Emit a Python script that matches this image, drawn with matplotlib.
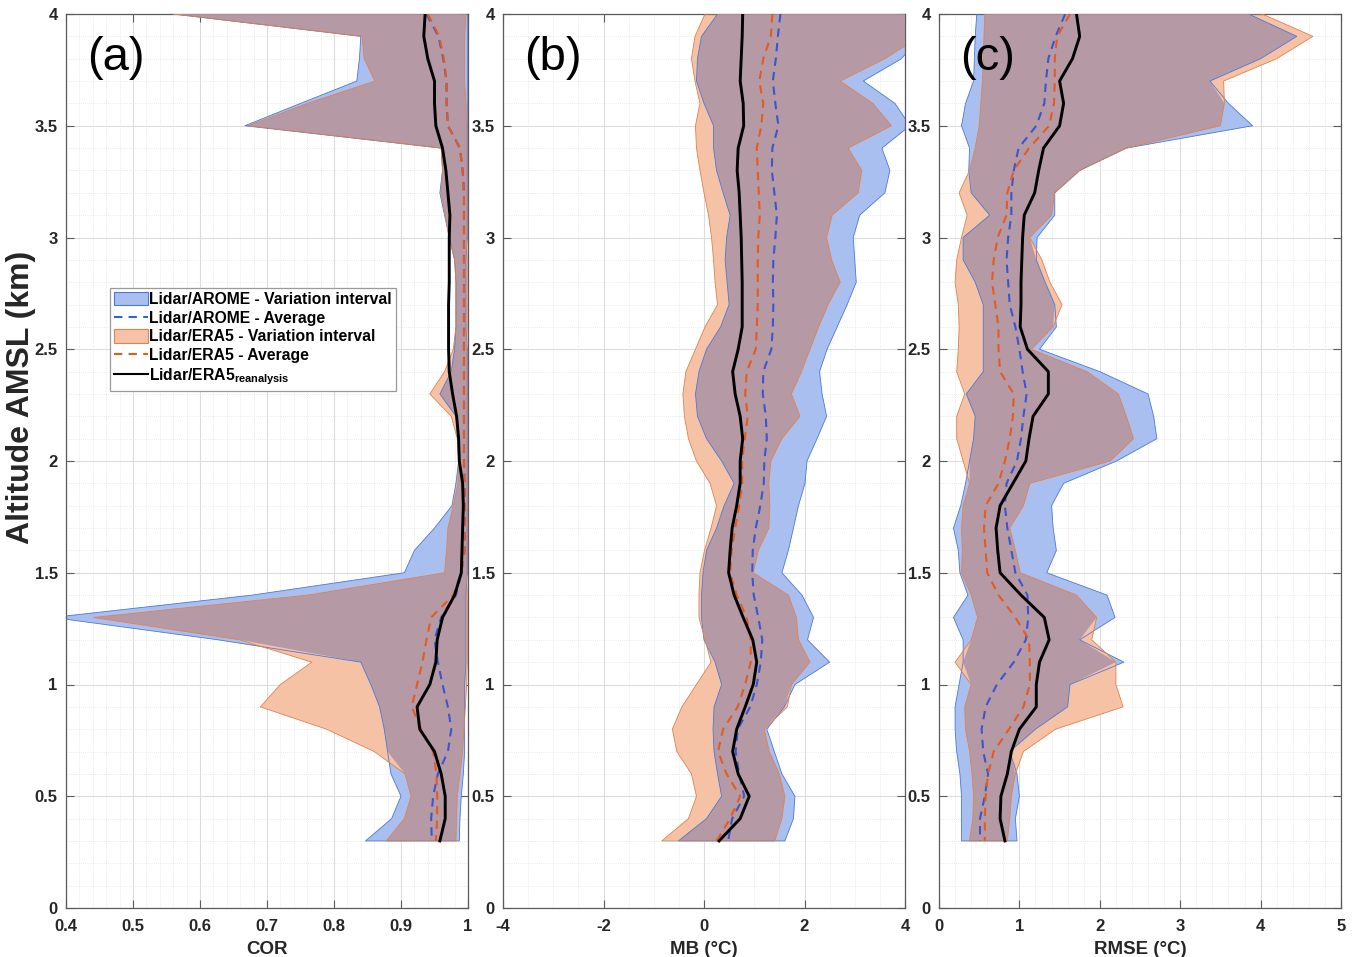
import matplotlib
matplotlib.use('Agg')
import matplotlib.pyplot as plt
import numpy as np
from matplotlib.patches import Patch
from matplotlib.lines import Line2D
from matplotlib.ticker import MultipleLocator

plt.rcParams['font.family'] = ['Liberation Sans', 'DejaVu Sans']
plt.rcParams['mathtext.fontset'] = 'custom'
plt.rcParams['mathtext.bf'] = 'Liberation Sans:bold'
plt.rcParams['mathtext.rm'] = 'Liberation Sans'
plt.rcParams['axes.unicode_minus'] = False

# altitude levels (km), top to bottom
alt = [4.0, 3.9, 3.8, 3.7, 3.6, 3.5, 3.4, 3.3, 3.2, 3.1,
       3.0, 2.9, 2.8, 2.7, 2.6, 2.5, 2.4, 2.3, 2.2, 2.1,
       2.0, 1.9, 1.8, 1.7, 1.6, 1.5, 1.4, 1.3, 1.2, 1.1,
       1.0, 0.9, 0.8, 0.7, 0.6, 0.5, 0.4, 0.3]

# ---- (a) COR ----
a_blue_lo = [0.56, 0.84, 0.838, 0.834, 0.75, 0.667, 0.96, 0.962, 0.958, 0.965,
             0.972, 0.980, 0.982, 0.982, 0.982, 0.980, 0.975, 0.958, 0.982, 0.985,
             0.986, 0.982, 0.976, 0.950, 0.920, 0.905, 0.678, 0.38, 0.627, 0.840,
             0.855, 0.868, 0.875, 0.880, 0.885, 0.900, 0.886, 0.847]
a_blue_hi = [0.999, 0.999, 0.999, 0.999, 0.999, 0.999, 0.999, 0.999, 0.999, 0.999,
             0.999, 0.997, 0.997, 0.997, 0.997, 0.999, 0.999, 0.999, 0.999, 0.999,
             0.999, 0.999, 0.999, 0.999, 0.999, 0.999, 0.997, 0.997, 0.997, 0.997,
             0.995, 0.995, 0.995, 0.995, 0.993, 0.990, 0.988, 0.987]
a_orange_lo = [0.56, 0.842, 0.845, 0.861, 0.76, 0.672, 0.96, 0.962, 0.960, 0.966,
               0.972, 0.980, 0.982, 0.982, 0.982, 0.978, 0.965, 0.943, 0.975, 0.984,
               0.986, 0.985, 0.978, 0.970, 0.968, 0.965, 0.761, 0.441, 0.659, 0.767,
               0.720, 0.690, 0.789, 0.860, 0.906, 0.915, 0.905, 0.878]
a_orange_hi = [0.997, 0.995, 0.995, 0.995, 0.997, 0.998, 0.998, 0.998, 0.998, 0.998,
               0.998, 0.999, 0.999, 0.999, 0.999, 0.998, 0.998, 0.998, 0.998, 0.998,
               0.998, 0.998, 0.998, 0.998, 0.998, 0.998, 0.999, 0.999, 0.999, 0.999,
               0.998, 0.996, 0.994, 0.992, 0.988, 0.984, 0.983, 0.982]
a_blue_avg = [0.938, 0.956, 0.963, 0.968, 0.968, 0.970, 0.988, 0.992, 0.994, 0.994,
              0.994, 0.994, 0.994, 0.994, 0.994, 0.994, 0.994, 0.994, 0.994, 0.994,
              0.994, 0.995, 0.995, 0.995, 0.995, 0.990, 0.982, 0.960, 0.950, 0.955,
              0.962, 0.970, 0.975, 0.970, 0.955, 0.948, 0.945, 0.946]
a_orange_avg = [0.940, 0.957, 0.964, 0.968, 0.968, 0.970, 0.988, 0.992, 0.994, 0.994,
                0.994, 0.994, 0.994, 0.994, 0.994, 0.994, 0.994, 0.994, 0.994, 0.994,
                0.994, 0.995, 0.995, 0.995, 0.995, 0.990, 0.978, 0.945, 0.938, 0.932,
                0.924, 0.916, 0.930, 0.948, 0.953, 0.954, 0.954, 0.952]
a_black = [0.936, 0.934, 0.940, 0.950, 0.950, 0.952, 0.962, 0.967, 0.970, 0.973,
           0.972, 0.972, 0.972, 0.971, 0.971, 0.971, 0.972, 0.977, 0.983, 0.986,
           0.987, 0.992, 0.993, 0.992, 0.991, 0.990, 0.980, 0.962, 0.954, 0.952,
           0.943, 0.924, 0.928, 0.950, 0.960, 0.966, 0.966, 0.958]

# ---- (b) MB ----
b_blue_lo = [0.27, -0.05, -0.13, -0.15, 0.00, 0.19, 0.19, 0.25, 0.38, 0.52,
             0.45, 0.42, 0.46, 0.50, 0.33, 0.05, -0.10, -0.17, -0.13, 0.05,
             0.35, 0.60, 0.40, 0.25, 0.05, -0.02, -0.05, -0.05, 0.00, 0.22,
             0.35, 0.20, 0.18, 0.20, 0.27, 0.35, 0.05, -0.51]
b_blue_hi = [4.3, 4.3, 3.93, 3.17, 3.80, 4.1, 3.54, 3.70, 3.60, 3.10,
             2.97, 3.00, 3.03, 2.85, 2.65, 2.45, 2.30, 2.35, 2.44, 2.25,
             2.05, 2.01, 1.88, 1.78, 1.68, 1.55, 1.95, 2.18, 2.06, 2.50,
             1.81, 1.60, 1.25, 1.40, 1.55, 1.81, 1.78, 1.61]
b_orange_lo = [0.02, -0.18, -0.25, -0.18, -0.08, -0.17, -0.15, -0.08, 0.00, 0.09,
               0.15, 0.19, 0.22, 0.27, 0.02, -0.17, -0.36, -0.42, -0.39, -0.31,
               -0.15, 0.12, 0.25, 0.14, 0.01, -0.08, -0.10, -0.10, 0.02, 0.14,
               -0.15, -0.44, -0.63, -0.54, -0.25, -0.15, -0.31, -0.84]
b_orange_hi = [4.3, 4.3, 3.60, 2.71, 3.36, 3.73, 2.87, 3.14, 3.07, 2.55,
               2.44, 2.54, 2.71, 2.47, 2.28, 2.11, 1.94, 1.74, 1.91, 1.55,
               1.33, 1.29, 1.31, 1.29, 1.08, 0.98, 1.68, 1.84, 1.88, 2.11,
               1.74, 1.66, 1.20, 1.30, 1.50, 1.61, 1.55, 1.41]
b_blue_avg = [1.52, 1.47, 1.43, 1.37, 1.42, 1.48, 1.36, 1.35, 1.40, 1.45,
              1.42, 1.38, 1.37, 1.38, 1.37, 1.34, 1.18, 1.17, 1.23, 1.25,
              1.20, 1.19, 1.12, 1.03, 0.97, 0.96, 0.99, 1.08, 1.16, 1.13,
              1.05, 0.92, 0.67, 0.63, 0.70, 0.80, 0.56, 0.48]
b_orange_avg = [1.36, 1.33, 1.18, 1.10, 1.18, 1.14, 1.05, 1.07, 1.09, 1.11,
                1.08, 1.07, 1.07, 1.07, 1.05, 1.03, 0.85, 0.82, 0.87, 0.81,
                0.76, 0.76, 0.70, 0.62, 0.55, 0.52, 0.65, 0.85, 0.93, 0.93,
                0.82, 0.67, 0.38, 0.28, 0.45, 0.72, 0.52, 0.25]
b_black = [0.77, 0.76, 0.74, 0.72, 0.78, 0.79, 0.68, 0.66, 0.70, 0.72,
           0.74, 0.75, 0.76, 0.76, 0.76, 0.68, 0.57, 0.62, 0.72, 0.77,
           0.72, 0.72, 0.65, 0.56, 0.52, 0.49, 0.60, 0.78, 0.97, 1.05,
           0.98, 0.82, 0.65, 0.57, 0.68, 0.90, 0.72, 0.30]

# ---- (c) RMSE ----
c_blue_lo = [0.47, 0.45, 0.44, 0.43, 0.33, 0.28, 0.38, 0.37, 0.40, 0.63,
             0.30, 0.30, 0.45, 0.55, 0.55, 0.55, 0.55, 0.34, 0.45, 0.43,
             0.38, 0.33, 0.27, 0.18, 0.24, 0.26, 0.36, 0.18, 0.30, 0.30,
             0.25, 0.20, 0.20, 0.22, 0.26, 0.28, 0.28, 0.28]
c_blue_hi = [3.85, 4.45, 4.00, 3.37, 3.60, 3.90, 2.33, 1.75, 1.44, 1.44,
             1.22, 1.21, 1.32, 1.44, 1.46, 1.25, 2.00, 2.60, 2.67, 2.71,
             2.21, 1.55, 1.40, 1.42, 1.46, 1.34, 2.09, 2.19, 1.75, 2.30,
             1.63, 1.60, 1.20, 0.88, 0.97, 1.00, 0.95, 0.97]
c_orange_lo = [0.57, 0.56, 0.55, 0.54, 0.52, 0.50, 0.45, 0.38, 0.25, 0.35,
               0.28, 0.22, 0.20, 0.24, 0.25, 0.24, 0.22, 0.32, 0.22, 0.22,
               0.30, 0.38, 0.30, 0.28, 0.29, 0.28, 0.40, 0.48, 0.40, 0.20,
               0.40, 0.32, 0.33, 0.38, 0.41, 0.43, 0.42, 0.38]
c_orange_hi = [4.02, 4.65, 4.20, 3.54, 3.55, 3.50, 2.33, 1.75, 1.44, 1.40,
               1.13, 1.28, 1.38, 1.53, 1.42, 1.15, 1.84, 2.23, 2.33, 2.42,
               2.13, 1.13, 1.05, 0.88, 0.95, 1.01, 1.71, 1.96, 1.90, 2.20,
               2.20, 2.29, 1.45, 1.05, 0.95, 0.90, 0.88, 0.85]
c_blue_avg = [1.57, 1.45, 1.36, 1.33, 1.31, 1.21, 0.99, 0.93, 0.90, 0.90,
              0.86, 0.84, 0.86, 0.88, 0.95, 1.00, 1.04, 1.09, 1.05, 1.02,
              0.97, 0.84, 0.82, 0.85, 0.90, 0.95, 1.10, 1.11, 1.08, 0.93,
              0.72, 0.58, 0.53, 0.55, 0.61, 0.57, 0.51, 0.51]
c_orange_avg = [1.63, 1.47, 1.44, 1.44, 1.43, 1.37, 1.12, 0.93, 0.85, 0.84,
                0.73, 0.68, 0.66, 0.70, 0.74, 0.74, 0.76, 0.93, 0.92, 0.88,
                0.82, 0.74, 0.58, 0.56, 0.58, 0.60, 0.74, 0.95, 1.12, 1.13,
                1.13, 1.05, 0.87, 0.68, 0.61, 0.58, 0.57, 0.57]
c_black = [1.71, 1.75, 1.66, 1.50, 1.55, 1.50, 1.30, 1.24, 1.19, 1.06,
           1.04, 1.03, 1.02, 1.02, 1.01, 1.10, 1.36, 1.36, 1.17, 1.12,
           1.08, 0.92, 0.76, 0.71, 0.73, 0.76, 1.02, 1.31, 1.37, 1.25,
           1.21, 1.21, 1.00, 0.90, 0.85, 0.77, 0.76, 0.82]

BLUE_FILL = '#a8bff0'
BLUE_EDGE = '#4a78d8'
ORANGE_FILL = '#f6c2a5'
ORANGE_EDGE = '#e0814f'
OVERLAP = '#b59aa6'
BLUE_LINE = '#3a55d0'
ORANGE_LINE = '#e65a1e'
SPINE = '#5a5a5a'
TXT = '#262626'


def draw_panel(ax, blo, bhi, olo, ohi, bavg, oavg, blk, xlim, major, minor, xlabel, tag):
    z = np.array(alt)
    blo, bhi, olo, ohi = map(np.array, (blo, bhi, olo, ohi))
    ax.fill_betweenx(z, blo, bhi, facecolor=BLUE_FILL, edgecolor='none', zorder=2)
    ax.fill_betweenx(z, olo, ohi, facecolor=ORANGE_FILL, edgecolor='none', zorder=2)
    lo = np.maximum(blo, olo)
    hi = np.minimum(bhi, ohi)
    ax.fill_betweenx(z, lo, hi, where=hi >= lo, interpolate=True,
                     facecolor=OVERLAP, edgecolor='none', zorder=3)
    ax.fill_betweenx(z, blo, bhi, facecolor='none', edgecolor=BLUE_EDGE, lw=0.6, zorder=4)
    ax.fill_betweenx(z, olo, ohi, facecolor='none', edgecolor=ORANGE_EDGE, lw=0.6, zorder=4)
    ax.plot(bavg, z, color=BLUE_LINE, lw=1.5, ls=(0, (4, 3)), zorder=5)
    ax.plot(oavg, z, color=ORANGE_LINE, lw=1.5, ls=(0, (4, 3)), zorder=5)
    ax.plot(blk, z, color='black', lw=2.1, zorder=6)

    ax.set_xlim(*xlim)
    ax.set_ylim(0, 4)
    ax.xaxis.set_major_locator(MultipleLocator(major))
    ax.xaxis.set_minor_locator(MultipleLocator(minor))
    ax.yaxis.set_major_locator(MultipleLocator(0.5))
    ax.yaxis.set_minor_locator(MultipleLocator(0.1))
    ax.grid(True, which='major', color='#dcdcdc', lw=0.8, zorder=0)
    ax.grid(True, which='minor', color='#e4e4e4', lw=0.6, ls=(0, (1, 1.5)), zorder=0)
    ax.set_axisbelow(True)
    ax.tick_params(which='major', direction='in', length=6, width=0.8, color=SPINE,
                   top=True, right=True, labelsize=12, labelcolor=TXT, pad=6)
    ax.tick_params(axis='x', which='major', pad=8)
    ax.tick_params(which='minor', length=0)
    for sp in ax.spines.values():
        sp.set_color(SPINE)
        sp.set_linewidth(0.9)
    ax.set_xlabel(xlabel, fontsize=13.5, fontweight='bold', color=TXT, labelpad=5)
    ax.text(0.052, 0.951, tag, transform=ax.transAxes, fontsize=34,
            va='center', ha='left', zorder=7)


fig = plt.figure(figsize=(13.64, 9.57), dpi=100)
W, H = 1364.0, 957.0
lefts = [66, 503, 939]
axes = [fig.add_axes([l / W, 49 / H, 402 / W, 894 / H]) for l in lefts]

draw_panel(axes[0], a_blue_lo, a_blue_hi, a_orange_lo, a_orange_hi, a_blue_avg,
           a_orange_avg, a_black, (0.4, 1.0), 0.1, 0.02, 'COR', '(a)')
axes[0].xaxis.set_major_formatter(plt.FuncFormatter(lambda v, p: '1' if abs(v - 1) < 1e-9 else '%.1f' % v))
draw_panel(axes[1], b_blue_lo, b_blue_hi, b_orange_lo, b_orange_hi, b_blue_avg,
           b_orange_avg, b_black, (-4, 4), 2, 0.5, 'MB (°C)', '(b)')
axes[1].xaxis.set_major_formatter(plt.FuncFormatter(lambda v, p: '%g' % v))
draw_panel(axes[2], c_blue_lo, c_blue_hi, c_orange_lo, c_orange_hi, c_blue_avg,
           c_orange_avg, c_black, (0, 5), 1, 0.2, 'RMSE (°C)', '(c)')

for ax in axes:
    ax.yaxis.set_major_formatter(plt.FuncFormatter(lambda v, p: ('%g' % v)))
    for lab in ax.get_xticklabels() + ax.get_yticklabels():
        lab.set_fontweight('bold')

fig.text(21 / W, 1 - 397 / H, 'Altitude AMSL (km)', rotation=90, fontsize=23,
         fontweight='bold', color=TXT, ha='center', va='center')

handles = [
    Patch(facecolor=BLUE_FILL, edgecolor=BLUE_EDGE, lw=0.8),
    Line2D([], [], color='#2a62e0', lw=1.5, ls=(0, (4, 3))),
    Patch(facecolor=ORANGE_FILL, edgecolor=ORANGE_EDGE, lw=0.8),
    Line2D([], [], color=ORANGE_LINE, lw=1.5, ls=(0, (4, 3))),
    Line2D([], [], color='black', lw=1.5),
]
labels = ['Lidar/AROME - Variation interval', 'Lidar/AROME - Average',
          'Lidar/ERA5 - Variation interval', 'Lidar/ERA5 - Average',
          r'Lidar/ERA5$_{\mathbf{reanalysis}}$']
leg = axes[0].legend(handles, labels, loc='upper left', bbox_to_anchor=(0.1095, 0.6935),
                     borderaxespad=0, fancybox=False, framealpha=1, edgecolor='#9a9a9a',
                     prop={'weight': 'bold', 'size': 11.3}, handlelength=2.15,
                     handleheight=0.95, handletextpad=0.1, labelspacing=0.22,
                     borderpad=0.25)
leg.get_frame().set_linewidth(0.9)
leg.set_zorder(10)

fig.savefig('out.png', dpi=100)
